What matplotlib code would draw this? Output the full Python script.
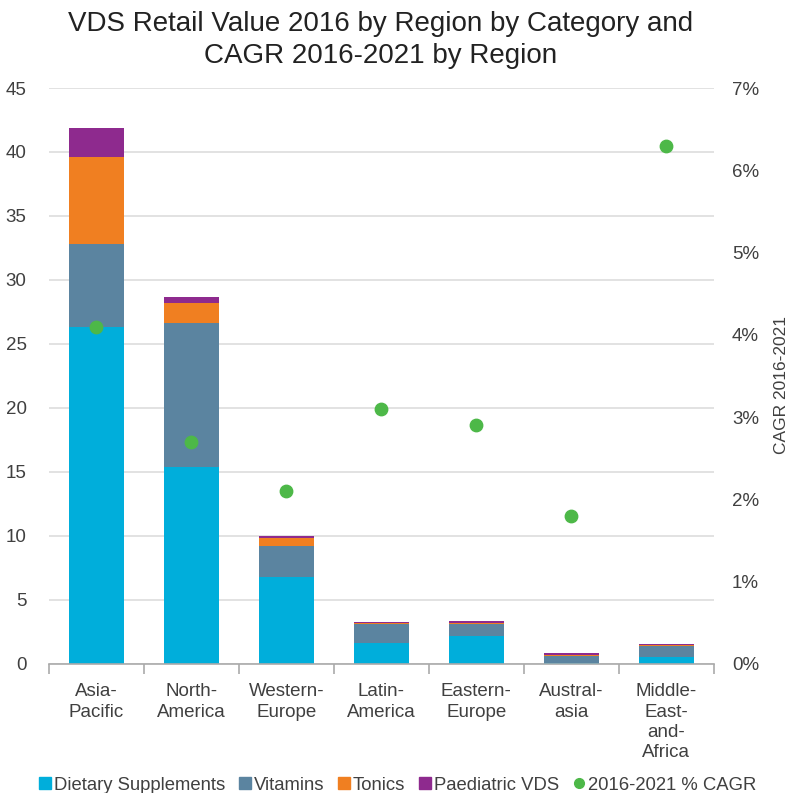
import numpy as np
import matplotlib.pyplot as plt
from matplotlib.lines import Line2D

plt.rcParams['font.family'] = ['Liberation Sans', 'DejaVu Sans']

regions = ['Asia-\nPacific', 'North-\nAmerica', 'Western-\nEurope', 'Latin-\nAmerica',
           'Eastern-\nEurope', 'Austral-\nasia', 'Middle-\nEast-\nand-\nAfrica']
dietary = [26.3, 15.4, 6.8, 1.6, 2.2, 0.05, 0.5]
vitamins = [6.5, 11.2, 2.4, 1.5, 0.9, 0.57, 0.85]
tonics = [6.8, 1.6, 0.6, 0.1, 0.1, 0.1, 0.1]
paediatric = [2.3, 0.5, 0.2, 0.1, 0.15, 0.1, 0.1]
cagr = [4.1, 2.7, 2.1, 3.1, 2.9, 1.8, 6.3]

c_diet = '#00AEDB'
c_vit = '#5B84A0'
c_ton = '#F07F21'
c_ped = '#8E2A8E'
c_cagr = '#4DB848'

fig = plt.figure(figsize=(7.87, 7.93), dpi=100)
ax = fig.add_axes([0.062, 0.163, 0.845, 0.726])
x = np.arange(len(regions))
w = 0.58
b1 = np.array(dietary)
b2 = b1 + np.array(vitamins)
b3 = b2 + np.array(tonics)
ax.bar(x, dietary, w, color=c_diet, zorder=2)
ax.bar(x, vitamins, w, bottom=b1, color=c_vit, zorder=2)
ax.bar(x, tonics, w, bottom=b2, color=c_ton, zorder=2)
ax.bar(x, paediatric, w, bottom=b3, color=c_ped, zorder=2)

ax.set_xlim(-0.5, len(regions) - 0.5)
ax.set_ylim(0, 45)
ax.set_yticks(np.arange(0, 46, 5))
ax.yaxis.grid(True, color='#DDDDDD', lw=1.2, zorder=0)
ax.set_axisbelow(True)
for s in ['top', 'right', 'left']:
    ax.spines[s].set_visible(False)
ax.spines['bottom'].set_color('#AAAAAA')
ax.spines['bottom'].set_linewidth(1.2)
ax.set_xticks(x)
ax.set_xticklabels(regions, fontsize=13.5, color='#404040', va='top', linespacing=1.26)
ax.set_xticks(np.arange(-0.5, len(regions), 1), minor=True)
ax.tick_params(axis='x', which='major', length=0, pad=14)
ax.tick_params(axis='x', which='minor', length=7, color='#AAAAAA', width=1.2)
ax.tick_params(axis='y', length=0, labelsize=13.5, labelcolor='#404040', pad=16)

ax2 = ax.twinx()
ax2.scatter(x, cagr, s=80, color=c_cagr, zorder=3)
ax2.set_ylim(0, 7)
ax2.set_yticks(np.arange(0, 8, 1))
ax2.set_yticklabels([f'{v}%' for v in range(8)])
ax2.tick_params(axis='y', length=0, labelsize=13.5, labelcolor='#404040', pad=13)
for s in ['top', 'right', 'left', 'bottom']:
    ax2.spines[s].set_visible(False)
fig.text(781 / 787, 1 - 385 / 793, 'CAGR 2016-2021', rotation=90, fontsize=12.5,
         color='#404040', ha='center', va='center')

fig.suptitle('VDS Retail Value 2016 by Region by Category and\nCAGR 2016-2021 by Region',
             x=0.483, y=0.986, fontsize=20, color='#222222', linespacing=1.3)

handles = [
    Line2D([], [], marker='s', ls='', color=c_diet, markersize=8),
    Line2D([], [], marker='s', ls='', color=c_vit, markersize=8),
    Line2D([], [], marker='s', ls='', color=c_ton, markersize=8),
    Line2D([], [], marker='s', ls='', color=c_ped, markersize=8),
    Line2D([], [], marker='o', ls='', color=c_cagr, markersize=7),
]
labels = ['Dietary Supplements', 'Vitamins', 'Tonics', 'Paediatric VDS', '2016-2021 % CAGR']
fig.legend(handles, labels, loc='lower center', bbox_to_anchor=(0.503, -0.022), ncol=5,
           frameon=False, fontsize=13.3, handletextpad=0.0, columnspacing=0.55,
           handlelength=1.0, labelcolor='#404040')

fig.savefig('out.png', dpi=100)
